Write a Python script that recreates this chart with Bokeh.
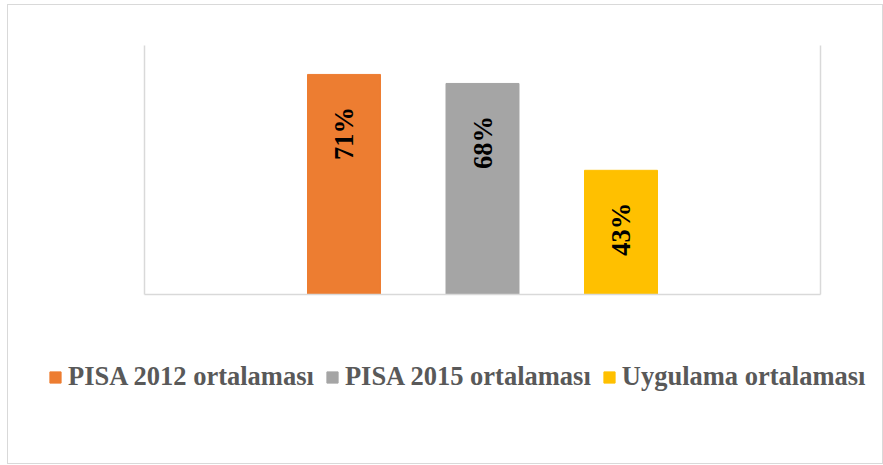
from bokeh.plotting import figure
from bokeh.models import Range1d, LinearAxis, Legend, LegendItem, ColumnDataSource, FixedTicker
from bokeh.core.properties import value
from bokeh.embed import file_html
from bokeh.resources import INLINE

# Data
series = ["PISA 2012 ortalaması", "PISA 2015 ortalaması", "Uygulama ortalaması"]
values = [70.7, 67.8, 39.9]
labels = ["71%", "68%", "43%"]
colors = ["#ED7D31", "#A5A5A5", "#FFC000"]
y_axis_max = 80

GRID = "#d9d9d9"
FONT = "Liberation Serif"

# plot-area extents in data units (frame covers the whole canvas)
XL, XR = -1.4404, 3.4404

p = figure(width=876, height=460, output_backend="svg", toolbar_location=None,
           x_range=Range1d(-2.4224, 3.9025), y_range=Range1d(-54.94, 92.85),
           min_border=0, x_axis_type=None, y_axis_type=None,
           styles={"border": "1px solid #d9d9d9", "margin-left": "7px", "margin-top": "4px"})
p.outline_line_color = None
p.grid.visible = False

for loc, fx, bnds in (("left", XL, (0, y_axis_max)), ("right", XR, (0, y_axis_max)),
                      ("below", 0, (XL, XR))):
    ax = LinearAxis(ticker=FixedTicker(ticks=[]), major_tick_line_color=None,
                    minor_tick_line_color=None, axis_line_color=GRID,
                    axis_line_width=1.5, fixed_location=fx, bounds=bnds)
    p.add_layout(ax, loc)

xs = list(range(len(series)))
items = []
for i, (name, v, lab, c) in enumerate(zip(series, values, labels, colors)):
    src = ColumnDataSource(dict(x=[xs[i]], top=[v], lab=[lab]))
    r = p.vbar(x="x", top="top", bottom=0, width=0.527, color=c, source=src)
    items.append(LegendItem(label=name, renderers=[r]))
    p.text(x="x", y="top", text="lab", source=src, angle=1.5708,
           text_align="center", text_baseline="middle", y_offset=59,
           text_font=value(FONT), text_font_style="bold",
           text_font_size="26.5px", text_color="black")

legend = Legend(items=items, orientation="horizontal", location=(40, 73),
                padding=0, spacing=11, label_standoff=6, glyph_width=14,
                glyph_height=14, label_text_font=FONT, label_text_font_style="bold",
                label_text_font_size="26.5px", label_text_color="#595959",
                border_line_color=None, background_fill_alpha=0, margin=0)
p.add_layout(legend)

open("out.html", "w").write(file_html(p, INLINE))
